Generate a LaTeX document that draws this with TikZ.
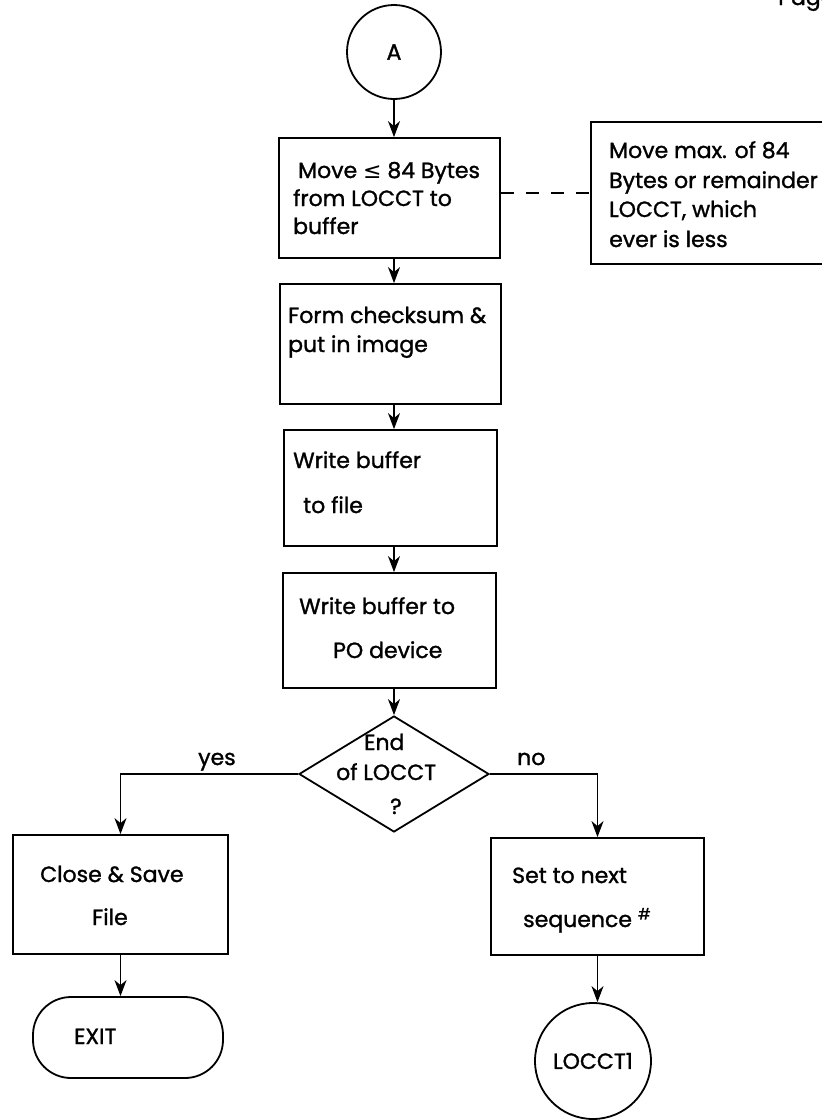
\documentclass[tikz,border=0pt]{standalone}
\usepackage{fontspec}
\setmainfont{Poppins}[RawFeature={embolden=1.3}]
\newfontfamily\symfont{DejaVu Sans}
\usetikzlibrary{arrows.meta,shapes.geometric,calc}
\begin{document}
\begin{tikzpicture}[x=1pt,y=-1pt,
  every node/.style={font=\fontsize{22}{28}\selectfont},
  box/.style={draw, line width=1.8pt, inner sep=0pt},
  txt/.style={anchor=base west, inner sep=0pt},
  arr/.style={line width=1.5pt, -{Stealth[length=16pt,width=12pt,inset=5pt]}},
  dashline/.style={line width=1.4pt, dash pattern=on 13pt off 12pt}
]
\useasboundingbox (0,0) rectangle (822,1120);

% page header (cut off at the top)
\node[txt] (page) at (778,5) {Page};

% start connector
\node[box, circle, minimum size=94pt] (A) at (394,52) {A};

% main chain
\node[box, minimum width=221pt, minimum height=120pt] (b1) at (389.5,198) {};
\node[txt] (b1l1) at (298,178) {Move {\symfont ≤} 84 Bytes};
\node[txt] (b1l2) at (293,206) {from LOCCT to};
\node[txt] (b1l3) at (293,234) {buffer};

\node[box, minimum width=248pt, minimum height=142pt] (side) at (715,193) {};
\node[txt] (sl1) at (609,158) {Move max. of 84};
\node[txt] (sl2) at (609,188) {Bytes or remainder};
\node[txt] (sl3) at (609,217) {LOCCT, which};
\node[txt] (sl4) at (609,247) {ever is less};

\node[box, minimum width=221pt, minimum height=120pt] (b2) at (390.5,344) {};
\node[txt] (b2l1) at (288,323) {Form checksum \&};
\node[txt] (b2l2) at (288,352) {put in image};

\node[box, minimum width=213pt, minimum height=116pt] (b3) at (390.5,488) {};
\node[txt] (b3l1) at (293,468) {Write buffer};
\node[txt] (b3l2) at (303,513) {to file};

\node[box, minimum width=213pt, minimum height=115pt] (b4) at (389.5,630.5) {};
\node[txt] (b4l1) at (299,614) {Write buffer to};
\node[txt] (b4l2) at (333,658) {PO device};

% decision
\node[box, diamond, minimum width=190pt, minimum height=116pt] (D) at (394,774) {};
\node[txt] (dl1) at (364,750) {End};
\node[txt] (dl2) at (336,780) {of LOCCT};
\node[txt] (dl3) at (390,814) {?};
\node[txt] (yes) at (198,765) {yes};
\node[txt] (no) at (517,765) {no};

% yes branch
\node[box, minimum width=215pt, minimum height=119pt] (close) at (120.5,894.5) {};
\node[txt] (cl1) at (40,882) {Close \& Save};
\node[txt] (cl2) at (92,925) {File};
\node[box, rounded corners=38pt, minimum width=190pt, minimum height=81pt] (exit) at (128,1037.5) {};
\node[txt] (exitl) at (74,1044) {EXIT};

% no branch
\node[box, minimum width=213pt, minimum height=117pt] (set) at (597.5,896.5) {};
\node[txt] (setl1) at (512,883) {Set to next};
\node[txt] (setl2) at (523,927) {sequence $^{\#}$};
\node[box, circle, minimum size=116pt] (loc) at (593,1061) {LOCCT1};

% connectors
\draw[arr] (A.south) -- (A.south |- b1.north);
\draw[dashline] (side.west -| b1.east) -- (side.west);
\draw[arr] (A.south |- b1.south) -- (A.south |- b2.north);
\draw[arr] (A.south |- b2.south) -- (A.south |- b3.north);
\draw[arr] (A.south |- b3.south) -- (A.south |- b4.north);
\draw[arr] (A.south |- b4.south) -- (D.north);
\draw[arr] (D.west) -| (close.north);
\draw[arr] (D.east) -| (set.north);
\draw[arr] (close.south) -- (close.south |- exit.north);
\draw[arr] (set.south) -- (set.south |- loc.north);
\end{tikzpicture}
\end{document}
